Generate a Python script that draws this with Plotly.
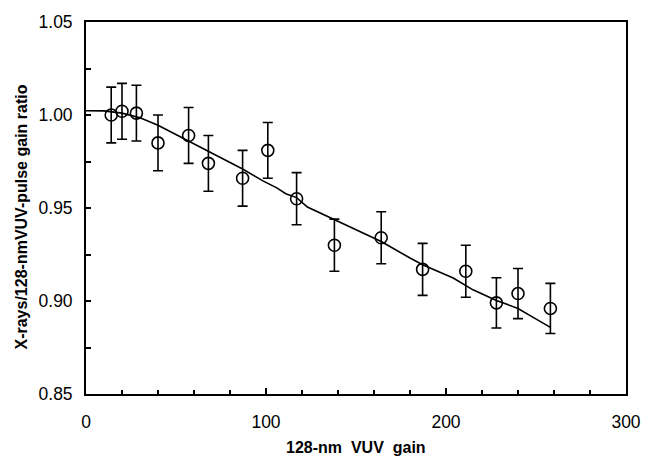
import plotly.graph_objects as go

# measured points
gain = [14, 20, 28, 40, 57, 68, 87, 101, 117, 138, 164, 187, 211, 228, 240, 258]
ratio = [1.000, 1.002, 1.001, 0.985, 0.989, 0.974, 0.966, 0.981, 0.955, 0.930,
         0.934, 0.917, 0.916, 0.899, 0.904, 0.896]
ratio_err = [0.015, 0.015, 0.015, 0.015, 0.015, 0.015, 0.015, 0.015, 0.014, 0.014,
             0.014, 0.014, 0.014, 0.0135, 0.0135, 0.0135]

# fitted curve
fit_x = [0, 10, 20, 30, 40, 50, 60, 67, 80, 87, 98, 106, 111, 117, 123, 137, 150,
         164, 180, 187, 204, 215, 228, 240, 247, 258]
fit_y = [1.0023, 1.0022, 1.0010, 0.9985, 0.9945, 0.9895, 0.9845, 0.9807, 0.9745,
         0.9710, 0.9647, 0.9608, 0.9577, 0.9556, 0.9505, 0.9441, 0.9380, 0.9320,
         0.9231, 0.9195, 0.9124, 0.9060, 0.9003, 0.8960, 0.8920, 0.8858]

x_title = "128-nm\u00a0\u00a0VUV\u00a0\u00a0gain"
y_title = "X-rays/128-nmVUV-pulse gain ratio"

fig = go.Figure()
fig.add_trace(go.Scatter(
    x=fit_x, y=fit_y, mode="lines",
    line=dict(color="black", width=1.6), showlegend=False, hoverinfo="skip"))
fig.add_trace(go.Scatter(
    x=gain, y=ratio, mode="markers",
    marker=dict(symbol="circle-open", size=12, color="black", line=dict(width=1.6)),
    error_y=dict(type="data", array=ratio_err, visible=True, color="black",
                 thickness=1.6, width=5),
    showlegend=False))

font_family = "Liberation Sans, Arial, sans-serif"
fig.update_layout(
    width=653, height=462,
    margin=dict(l=86, r=16, t=20, b=68),
    paper_bgcolor="white", plot_bgcolor="white",
    font=dict(family=font_family, color="black", size=17),
    xaxis=dict(
        range=[0, 300], tickvals=[0, 100, 200, 300],
        ticks="inside", ticklen=6, tickwidth=1.5, tickcolor="black",
        minor=dict(dtick=20, ticks="inside", ticklen=4, tickwidth=1.5, tickcolor="black"),
        showline=True, linecolor="black", linewidth=1.8, mirror=True,
        showgrid=False, zeroline=False,
        tickfont=dict(size=17.5), ticklabelstandoff=11),
    yaxis=dict(
        range=[0.85, 1.05], tickvals=[0.85, 0.90, 0.95, 1.00, 1.05], tickformat=".2f",
        ticks="inside", ticklen=5, tickwidth=1.5, tickcolor="black",
        minor=dict(dtick=0.025, ticks="inside", ticklen=5, tickwidth=1.5, tickcolor="black"),
        showline=True, linecolor="black", linewidth=1.8, mirror=True,
        showgrid=False, zeroline=False,
        tickfont=dict(size=17.5), ticklabelstandoff=8),
    annotations=[
        dict(text="<b>" + x_title + "</b>", xref="paper", yref="paper",
             x=0.5, y=-0.145, xanchor="center", yanchor="middle",
             showarrow=False, font=dict(size=16)),
        dict(text="<b>" + y_title + "</b>", xref="paper", yref="paper",
             x=-0.12, y=0.475, xanchor="center", yanchor="middle", textangle=-90,
             showarrow=False, font=dict(size=16)),
    ],
)

fig.write_html("out.html")
